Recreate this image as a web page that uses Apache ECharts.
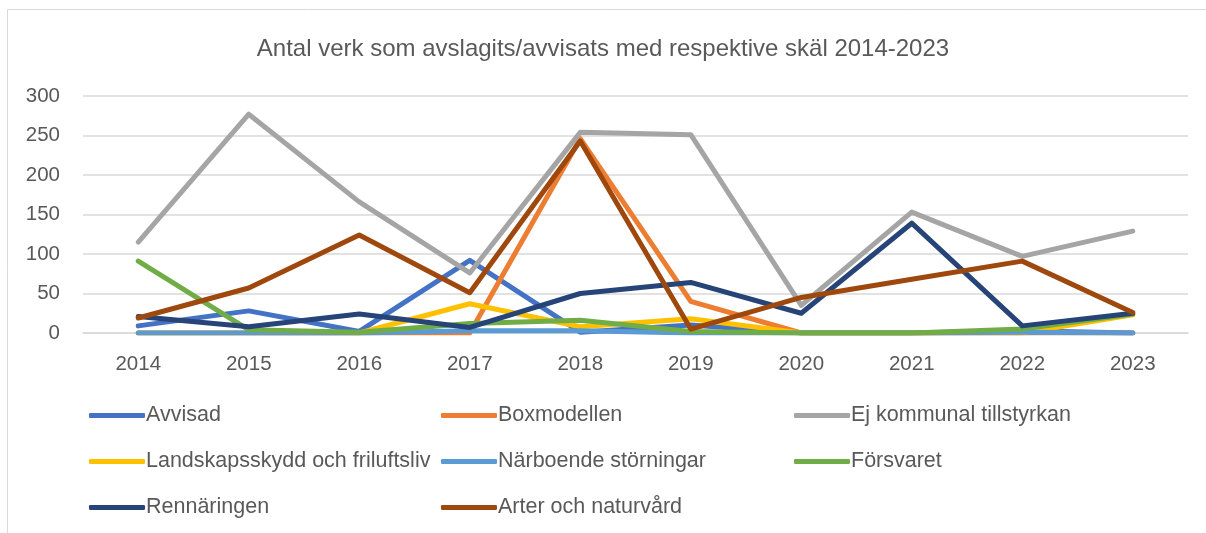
<!DOCTYPE html>
<html>
<head>
<meta charset="utf-8">
<script src="https://cdn.jsdelivr.net/npm/echarts@6/dist/echarts.min.js"></script>
<style>
  html, body { margin: 0; padding: 0; background: #fff; }
  #chart { width: 1206px; height: 533px; }
</style>
</head>
<body>
<div id="chart"></div>
<script>
  // år på x-axeln
  const years = ['2014', '2015', '2016', '2017', '2018', '2019', '2020', '2021', '2022', '2023']

  const avvisad        = [9, 28, 2, 92, 1, 10, 0, 0, 3, 0]
  const boxmodellen    = [0, 0, 0, 0, 246, 40, 0, 0, 0, 0]
  const ejKommunal     = [115, 277, 166, 76, 254, 251, 35, 153, 97, 129]
  const landskapsskydd = [0, 0, 0, 37, 8, 18, 0, 0, 0, 23]
  const narboende      = [0, 0, 0, 3, 3, 0, 0, 0, 1, 0]
  const forsvaret      = [91, 4, 1, 12, 16, 2, 0, 0, 5, 24]
  const renaringen     = [21, 8, 24, 7, 50, 64, 25, 139, 9, 25]
  const arter          = [19, 57, 124, 51, 243, 5, 45, 68, 91, 26]

  const yTicks = [0, 50, 100, 150, 200, 250, 300]

  const names = [
    'Avvisad', 'Boxmodellen', 'Ej kommunal tillstyrkan',
    'Landskapsskydd och friluftsliv', 'Närboende störningar', 'Försvaret',
    'Rennäringen', 'Arter och naturvård'
  ]
  const colors = ['#4472C4', '#ED7D31', '#A5A5A5', '#FFC000', '#5B9BD5', '#70AD47', '#264478', '#9E480E']
  const values = [avvisad, boxmodellen, ejKommunal, landskapsskydd, narboende, forsvaret, renaringen, arter]

  const font = '"Liberation Sans", Arial, sans-serif'
  const textColor = '#595959'

  function legendCol(left, data) {
    return {
      orient: 'vertical',
      left: left,
      top: 399,
      itemWidth: 56,
      itemHeight: 5,
      itemGap: 23,
      icon: 'roundRect',
      data: data,
      textStyle: { fontFamily: font, fontSize: 21.5, color: textColor, lineHeight: 23, padding: [0, 0, 0, -4] }
    }
  }

  function seriesItem(i) {
    return {
      name: names[i],
      type: 'line',
      data: values[i],
      symbol: 'none',
      color: colors[i],
      lineStyle: { width: 5, cap: 'round', join: 'round', color: colors[i] }
    }
  }

  let chart = echarts.init(document.getElementById('chart'))
  chart.setOption({
    animation: false,
    color: colors,
    title: {
      text: 'Antal verk som avslagits/avvisats med respektive skäl 2014-2023',
      left: 'center',
      top: 32,
      textStyle: { fontFamily: font, fontSize: 24, fontWeight: 'normal', color: textColor }
    },
    graphic: [{
      type: 'rect',
      silent: true,
      shape: { x: 7.5, y: 9.5, width: 1400, height: 800 },
      style: { fill: 'none', stroke: '#d9d9d9', lineWidth: 1 }
    }],
    legend: [
      legendCol(84, [names[0], names[3], names[6]]),
      legendCol(436, [names[1], names[4], names[7]]),
      legendCol(789, [names[2], names[5]])
    ],
    grid: { left: 83, right: 18, top: 96, bottom: 200, containLabel: false },
    xAxis: {
      type: 'category',
      data: years,
      boundaryGap: true,
      axisLine: { show: true, lineStyle: { color: '#d9d9d9', width: 1.5 } },
      axisTick: { show: false },
      axisLabel: { margin: 21, fontFamily: font, fontSize: 20.5, color: textColor }
    },
    yAxis: {
      type: 'value',
      min: yTicks[0],
      max: yTicks[yTicks.length - 1],
      interval: 50,
      axisLine: { show: false },
      axisTick: { show: false },
      axisLabel: { margin: 23, fontFamily: font, fontSize: 20.5, color: textColor },
      splitLine: { lineStyle: { color: '#d9d9d9', width: 1.5 } }
    },
    series: names.map((n, i) => seriesItem(i))
  })
</script>
</body>
</html>
